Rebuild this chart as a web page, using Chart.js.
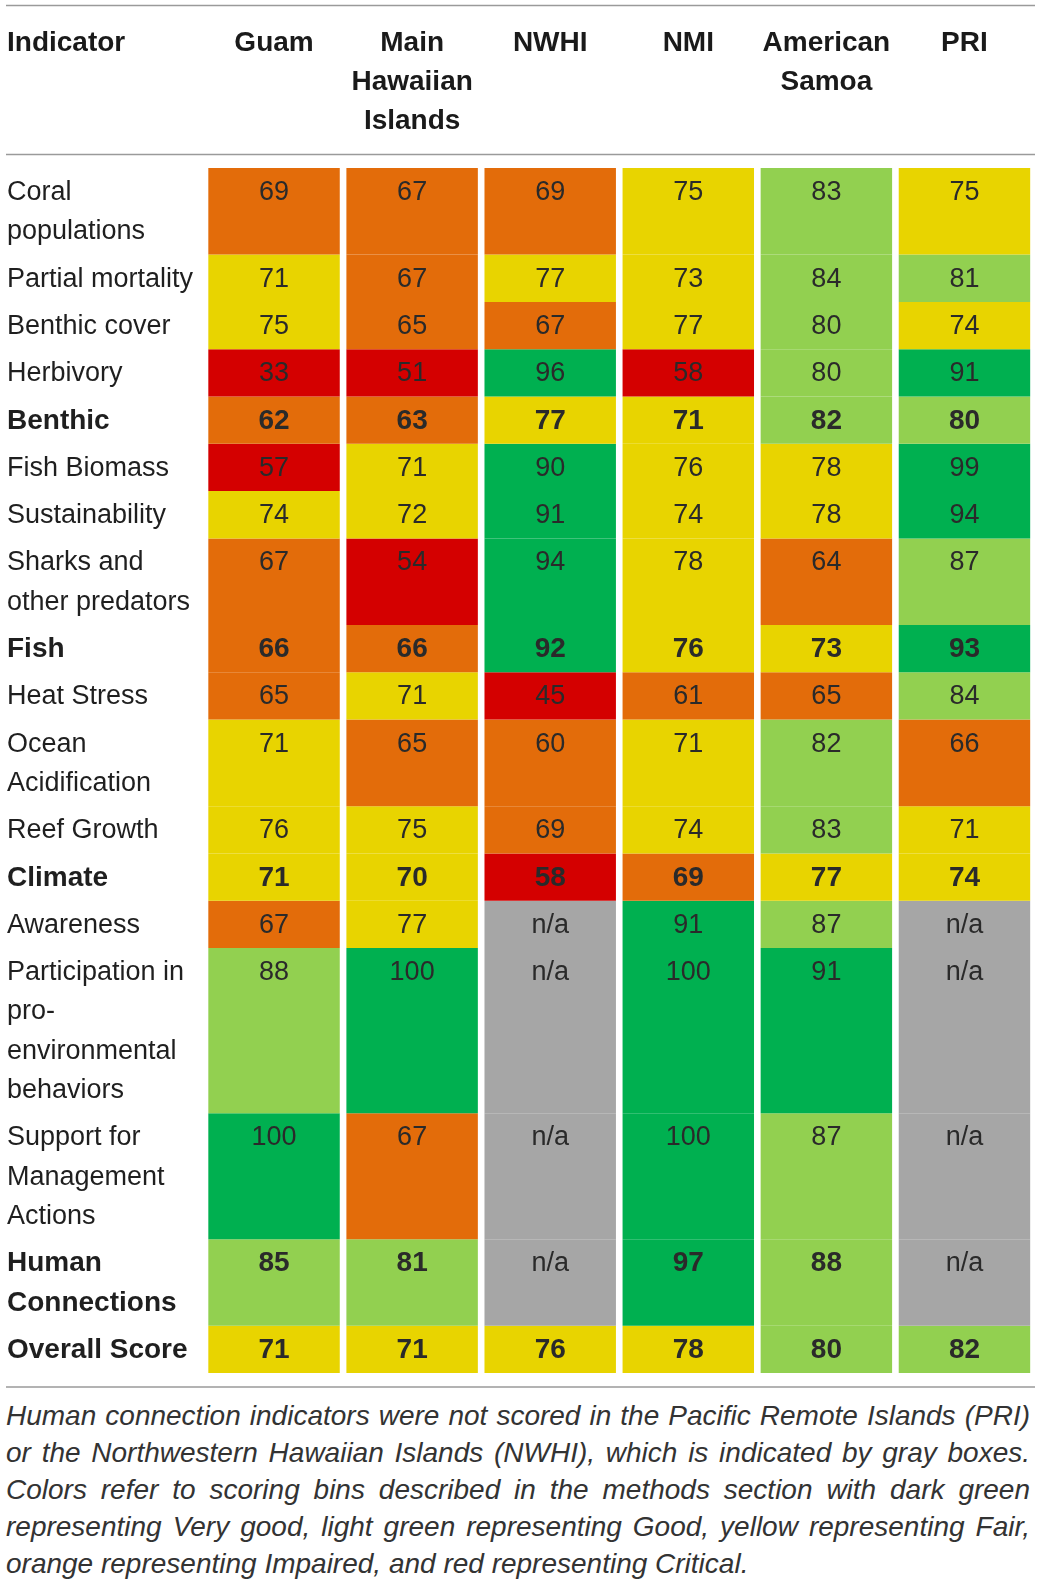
<!DOCTYPE html>
<html>
<head>
<meta charset="utf-8">
<script src="https://cdn.jsdelivr.net/npm/chart.js@4.4.1/dist/chart.umd.min.js"></script>
<style>
  body { margin: 0; background: #fff; }
  #wrap { position: relative; width: 1040px; height: 1394px; }
  #caption {
    width: 1024px; margin: 3px 0 0 6px;
    font: italic 28px "Liberation Sans", Arial, sans-serif;
    line-height: 37px; color: #333;
  }
  #caption div { text-align: justify; text-align-last: justify; white-space: nowrap; }
  #caption div.last { text-align-last: left; }
</style>
</head>
<body>
<div id="wrap"><canvas id="scoreTable"></canvas></div>
<div id="caption">
  <div>Human connection indicators were not scored in the Pacific Remote Islands (PRI)</div>
  <div>or the Northwestern Hawaiian Islands (NWHI), which is indicated by gray boxes.</div>
  <div>Colors refer to scoring bins described in the methods section with dark green</div>
  <div>representing Very good, light green representing Good, yellow representing Fair,</div>
  <div class="last">orange representing Impaired, and red representing Critical.</div>
</div>
<script>
// column headers (one entry per line)
var regions = [
  ["Guam"],
  ["Main", "Hawaiian", "Islands"],
  ["NWHI"],
  ["NMI"],
  ["American", "Samoa"],
  ["PRI"]
];

// row labels, wrapped as in the original table
var indicators = [
  ["Coral", "populations"],
  ["Partial mortality"],
  ["Benthic cover"],
  ["Herbivory"],
  ["Benthic"],
  ["Fish Biomass"],
  ["Sustainability"],
  ["Sharks and", "other predators"],
  ["Fish"],
  ["Heat Stress"],
  ["Ocean", "Acidification"],
  ["Reef Growth"],
  ["Climate"],
  ["Awareness"],
  ["Participation in", "pro-", "environmental", "behaviors"],
  ["Support for", "Management", "Actions"],
  ["Human", "Connections"],
  ["Overall Score"]
];

// summary rows shown in bold
var summaryRows = ["Benthic", "Fish", "Climate", "Human Connections", "Overall Score"];

// scores per region, in indicator order (null = not scored)
var guam          = [69, 71, 75, 33, 62, 57, 74, 67, 66, 65, 71, 76, 71, 67, 88, 100, 85, 71];
var mainHawaiian  = [67, 67, 65, 51, 63, 71, 72, 54, 66, 71, 65, 75, 70, 77, 100, 67, 81, 71];
var nwhi          = [69, 77, 67, 96, 77, 90, 91, 94, 92, 45, 60, 69, 58, null, null, null, null, 76];
var nmi           = [75, 73, 77, 58, 71, 76, 74, 78, 76, 61, 71, 74, 69, 91, 100, 100, 97, 78];
var americanSamoa = [83, 84, 80, 80, 82, 78, 78, 64, 73, 65, 82, 83, 77, 87, 91, 87, 88, 80];
var pri           = [75, 81, 74, 91, 80, 99, 94, 87, 93, 84, 66, 71, 74, null, null, null, null, 82];

var series = [guam, mainHawaiian, nwhi, nmi, americanSamoa, pri];

// scoring bins
var binLimits = [90, 80, 70, 60];
var binColors = ["#00b050", "#92d050", "#e8d400", "#e36c0a", "#d40000"];
var naColor = "#a6a6a6";

function binColor(v) {
  if (v === null) return naColor;
  for (var i = 0; i < binLimits.length; i++) {
    if (v >= binLimits[i]) return binColors[i];
  }
  return binColors[binColors.length - 1];
}

var LINE = 39.3, PAD = 8, TOP = 168;
function rowSpan(lines) { return lines.length * LINE + PAD; }
var total = indicators.reduce(function (s, l) { return s + rowSpan(l); }, 0);

var FONT = '"Liberation Sans", Arial, sans-serif';

var datasets = indicators.map(function (lines, r) {
  return {
    label: lines.join(" "),
    data: regions.map(function () { return rowSpan(lines); }),
    scores: series.map(function (s) { return s[r]; }),
    backgroundColor: series.map(function (s) { return binColor(s[r]); }),
    borderWidth: 0,
    barPercentage: 1,
    categoryPercentage: 0.952
  };
});

var tableText = {
  id: "tableText",
  afterDatasetsDraw: function (chart) {
    var ctx = chart.ctx, xs = chart.scales.x;
    ctx.save();

    // horizontal rules
    ctx.strokeStyle = "#9a9a9a";
    ctx.lineWidth = 1.5;
    [5.5, 154.5, 1387].forEach(function (y) {
      ctx.beginPath(); ctx.moveTo(6, y); ctx.lineTo(1035, y); ctx.stroke();
    });

    // header
    ctx.fillStyle = "#1a1a1a";
    ctx.font = "bold 28px " + FONT;
    ctx.textBaseline = "alphabetic";
    ctx.textAlign = "left";
    ctx.fillText("Indicator", 7, 51);
    ctx.textAlign = "center";
    regions.forEach(function (lines, j) {
      var cx = xs.getPixelForValue(j);
      lines.forEach(function (t, k) { ctx.fillText(t, cx, 51 + k * 39); });
    });

    // rows
    chart.data.datasets.forEach(function (ds, i) {
      var meta = chart.getDatasetMeta(i);
      var bold = summaryRows.indexOf(ds.label) >= 0;
      var el0 = meta.data[0];
      var top = Math.min(el0.y, el0.base);
      ctx.fillStyle = "#1f1f1f";
      ctx.font = (bold ? "bold 28px " : "27px ") + FONT;
      ctx.textAlign = "left";
      indicators[i].forEach(function (t, k) { ctx.fillText(t, 7, top + 32 + k * LINE); });
      ctx.textAlign = "center";
      ctx.fillStyle = "#2a2a2a";
      meta.data.forEach(function (el, j) {
        var v = ds.scores[j];
        ctx.font = (bold && v !== null ? "bold 28px " : "27px ") + FONT;
        ctx.fillText(v === null ? "n/a" : String(v), el.x, top + 32);
      });
    });
    ctx.restore();
  }
};

new Chart(document.getElementById("scoreTable"), {
  type: "bar",
  data: {
    labels: regions.map(function (l) { return l.join(" "); }),
    datasets: datasets
  },
  options: {
    responsive: true,
    maintainAspectRatio: false,
    animation: false,
    layout: { padding: { top: TOP, bottom: 1394 - TOP - total, left: 205, right: 6.5 } },
    plugins: { legend: { display: false }, tooltip: { enabled: false } },
    scales: {
      x: { stacked: true, display: false },
      y: { stacked: true, display: false, reverse: true, min: 0, max: total }
    }
  },
  plugins: [tableText]
});
</script>
</body>
</html>
